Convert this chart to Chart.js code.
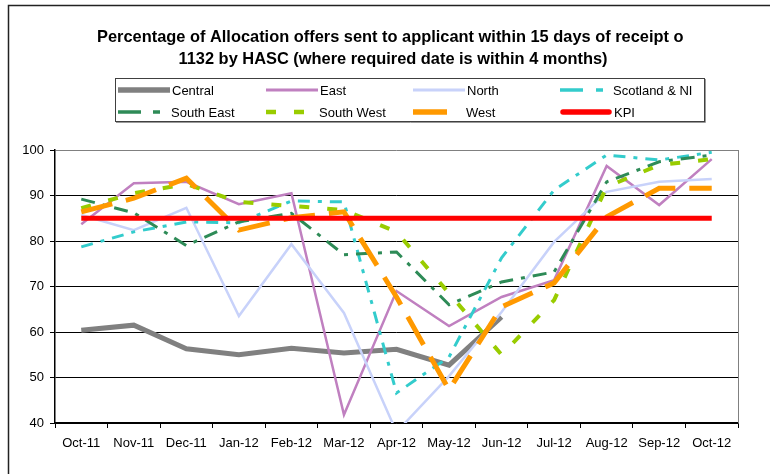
<!DOCTYPE html>
<html>
<head>
<meta charset="utf-8">
<script src="https://cdn.jsdelivr.net/npm/chart.js@4.4.1/dist/chart.umd.min.js"></script>
<style>
  body { margin: 0; background: #fff; }
  #wrap { width: 770px; height: 474px; }
</style>
</head>
<body>
<div id="wrap"><canvas id="allocChart" width="770" height="474"></canvas></div>
<script>
// months along the x axis
const months = ["Oct-11", "Nov-11", "Dec-11", "Jan-12", "Feb-12", "Mar-12", "Apr-12",
                "May-12", "Jun-12", "Jul-12", "Aug-12", "Sep-12", "Oct-12"];
const yTicks = [40, 50, 60, 70, 80, 90, 100];

// % of offers sent within 15 days
const central   = [60.4, 61.5, 56.3, 55.0, 56.4, 55.4, 56.2, 52.7, 63.3, null, null, null, null];
const east      = [83.7, 92.7, 93.0, 88.1, 90.5, 41.8, 69.0, 61.3, 67.7, 71.4, 96.5, 87.9, 98.0];
const north     = [85.7, 82.4, 87.3, 63.5, 79.3, 64.2, 38.0, 50.3, 64.4, 79.8, 90.8, 93.0, 93.6];
const scotland  = [78.7, 82.0, 84.2, 84.0, 88.8, 88.6, 46.6, 54.5, 76.3, 91.2, 98.9, 97.8, 99.5];
const southEast = [89.2, 86.2, 79.0, 84.2, 86.1, 77.0, 77.6, 66.0, 71.0, 73.2, 93.0, 97.4, 98.9];
const southWest = [87.2, 90.5, 92.5, 88.6, 87.7, 86.8, 82.0, 68.5, 55.0, 67.0, 91.9, 96.7, 98.0];
const west      = [86.4, 89.4, 93.8, 82.4, 85.1, 86.4, 67.7, 47.3, 65.5, 70.8, 85.3, 91.6, 91.6];
const kpi       = [85, 85, 85, 85, 85, 85, 85, 85, 85, 85, 85, 85, 85];

const FONT = "'Liberation Sans', Arial, sans-serif";

function series(label, data, color, width, dash, legendDash) {
    return {
        label: label,
        data: data,
        borderColor: color,
        backgroundColor: color,
        borderWidth: width,
        borderDash: dash,
        legendDash: legendDash,
        pointRadius: 0,
        tension: 0,
        fill: false,
        spanGaps: false
    };
}

let datasets = [
    series("Central", central, "#808080", 5, [], []),
    series("East", east, "#C080C0", 2.5, [], []),
    series("North", north, "#C8D2FA", 2.5, [], []),
    series("Scotland & NI", scotland, "#33CCCC", 3, [12, 8, 4, 8], [23, 13, 7, 13]),
    series("South East", southEast, "#2E8B57", 3, [14, 8, 4, 8], [23, 12, 7, 12]),
    series("South West", southWest, "#99CC00", 4, [10, 18], [10, 18]),
    series("West", west, "#FF9900", 5, [32, 14], [34, 60]),
    series("KPI", kpi, "#FF0000", 5, [], [])
];
// later series sit on top, like the original
datasets.forEach((d, i) => { d.order = datasets.length - i; });

// title, legend box and frame drawn by hand
const decor = {
    id: "decor",
    afterDraw(chart) {
        const ctx = chart.ctx;
        const area = chart.chartArea;
        ctx.save();

        // outer frame
        ctx.strokeStyle = "#222";
        ctx.lineWidth = 1.5;
        ctx.strokeRect(8.5, 5.5, 900, 600);

        // right edge of plot area
        ctx.strokeStyle = "#808080";
        ctx.lineWidth = 1;
        ctx.beginPath();
        ctx.moveTo(area.right + 0.5, area.top);
        ctx.lineTo(area.right + 0.5, area.bottom);
        ctx.stroke();

        // title, clipped on the right like the picture
        ctx.save();
        ctx.beginPath();
        ctx.rect(0, 0, 683, 474);
        ctx.clip();
        ctx.fillStyle = "#000";
        ctx.font = "bold 16.4px " + FONT;
        ctx.textAlign = "center";
        ctx.textBaseline = "middle";
        ctx.fillText("Percentage of Allocation offers sent to applicant within 15 days of receipt of", 393, 37);
        ctx.fillText("1132 by HASC (where required date is within 4 months)", 393, 59);
        ctx.restore();

        // legend box
        ctx.fillStyle = "#fff";
        ctx.fillRect(116, 78, 589, 44);
        ctx.strokeStyle = "#404040";
        ctx.lineWidth = 1;
        ctx.strokeRect(115.5, 78.5, 589, 43);
        ctx.beginPath();
        ctx.moveTo(116, 122.5);
        ctx.lineTo(705.5, 122.5);
        ctx.lineTo(705.5, 79);
        ctx.strokeStyle = "#999";
        ctx.stroke();

        const colX = [118, 266, 413, 560];
        const rowY = [90, 112];
        ctx.font = "13px " + FONT;
        ctx.textAlign = "left";
        ctx.textBaseline = "middle";
        chart.data.datasets.forEach((ds, i) => {
            const x = colX[i % 4];
            const y = rowY[Math.floor(i / 4)];
            ctx.save();
            ctx.beginPath();
            ctx.rect(x, y - 6, 52, 12);
            ctx.clip();
            ctx.strokeStyle = ds.borderColor;
            ctx.lineWidth = ds.borderWidth + 0.5;
            ctx.lineCap = ds.label === "KPI" ? "round" : "butt";
            ctx.setLineDash(ds.legendDash);
            ctx.beginPath();
            ctx.moveTo(ds.label === "KPI" ? x + 3 : x, y);
            ctx.lineTo(ds.label === "KPI" ? x + 49 : x + 52, y);
            ctx.stroke();
            ctx.restore();
            ctx.fillStyle = "#000";
            const tx = ds.legendDash.length ? x + 53 : x + 54;
            ctx.fillText(ds.label, tx, y + 1);
        });

        ctx.restore();
    }
};

new Chart(document.getElementById("allocChart"), {
    type: "line",
    data: { labels: months, datasets: datasets },
    options: {
        responsive: false,
        animation: false,
        layout: { padding: { left: 0, top: 150, right: 32, bottom: 0 } },
        plugins: {
            legend: { display: false },
            title: { display: false },
            tooltip: { enabled: false }
        },
        scales: {
            x: {
                offset: true,
                grid: {
                    offset: true,
                    drawOnChartArea: false,
                    drawTicks: true,
                    tickLength: 5,
                    color: "#000"
                },
                border: { color: "#000", width: 1.5 },
                ticks: {
                    color: "#000",
                    font: { size: 13, family: FONT },
                    padding: 8,
                    maxRotation: 0,
                    autoSkip: false
                },
                afterFit(scale) { scale.height = 51; }
            },
            y: {
                min: 40,
                max: 100,
                afterBuildTicks(scale) { scale.ticks = yTicks.map(v => ({ value: v })); },
                grid: {
                    color: ctx => ctx.tick && ctx.tick.value === 100 ? "#808080" : "#000",
                    lineWidth: 1,
                    tickLength: 5,
                    tickColor: "#000"
                },
                border: { color: "#000", width: 1.5 },
                ticks: {
                    color: "#000",
                    font: { size: 13, family: FONT },
                    padding: 6
                },
                afterFit(scale) { scale.width = 55; }
            }
        }
    },
    plugins: [decor]
});
</script>
</body>
</html>
